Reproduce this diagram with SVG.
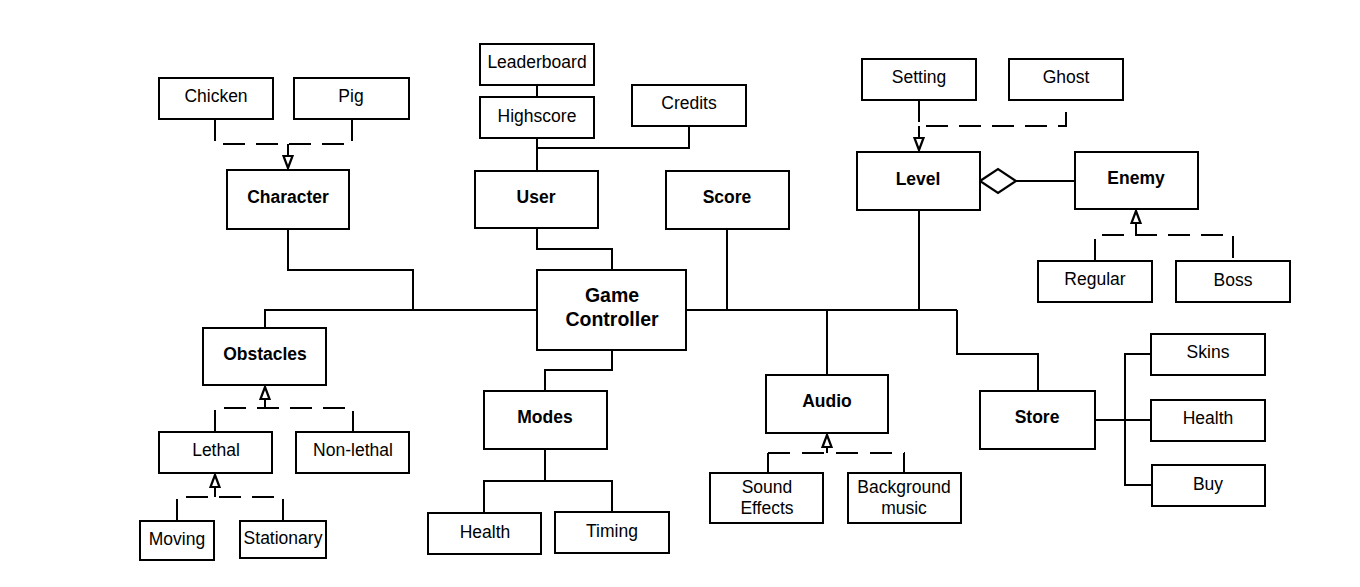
<svg xmlns="http://www.w3.org/2000/svg" width="1360" height="587" viewBox="0 0 1360 587">
<style>
.b{fill:#fff;stroke:#000;stroke-width:2}
.t{font-family:"Liberation Sans",Arial,sans-serif;font-size:17.5px;text-anchor:middle;fill:#000}
.tb{font-family:"Liberation Sans",Arial,sans-serif;font-size:17.5px;font-weight:bold;text-anchor:middle;fill:#000}
.l{fill:none;stroke:#000;stroke-width:2}
.d{fill:none;stroke:#000;stroke-width:2;stroke-dasharray:22 11}
.a{fill:#fff;stroke:#000;stroke-width:2.2}
</style>
<rect width="1360" height="587" fill="#fff"/>
<g id="connectors">
<polyline class="d" points="215,119 215,144 352,144 352,119"/>
<line class="d" x1="288" y1="144" x2="288" y2="156"/>
<polygon class="a" points="283.5,156 292.5,156 288,168"/>
<polyline class="l" points="288,229 288,270 413,270 413,310"/>
<polyline class="l" points="265,328 265,310 537,310"/>
<line class="l" x1="686" y1="310" x2="957" y2="310"/>
<line class="l" x1="727" y1="229" x2="727" y2="310"/>
<line class="l" x1="919" y1="210" x2="919" y2="310"/>
<line class="l" x1="827" y1="310" x2="827" y2="375"/>
<polyline class="l" points="957,310 957,354 1038,354 1038,391"/>
<polyline class="l" points="537,228 537,249 612,249 612,270"/>
<line class="l" x1="537" y1="85" x2="537" y2="97"/>
<line class="l" x1="537" y1="138" x2="537" y2="171"/>
<polyline class="l" points="689,126 689,148 537,148"/>
<polyline class="l" points="612,350 612,370 545,370 545,391"/>
<line class="l" x1="545" y1="449" x2="545" y2="481"/>
<polyline class="l" points="484,513 484,481 612,481 612,512"/>
<polygon class="a" points="827,435 822.5,447 831.5,447"/>
<line class="l" x1="827" y1="447" x2="827" y2="453"/>
<line class="d" x1="768" y1="453" x2="905" y2="453" style="stroke-dasharray:22 12"/>
<line class="l" x1="768" y1="453" x2="768" y2="473"/>
<line class="l" x1="904" y1="453" x2="904" y2="473"/>
<line class="l" x1="1095" y1="420" x2="1151" y2="420"/>
<polyline class="l" points="1151,354 1125,354 1125,485 1152,485"/>
<polygon class="a" points="265,387 260.5,399 269.5,399"/>
<polyline class="d" points="215,432 215,408 353,408 353,432"/>
<line class="l" x1="265" y1="399" x2="265" y2="408"/>
<polygon class="a" points="215,475 210.5,487 219.5,487"/>
<polyline class="d" points="177,521 177,497 283,497 283,521"/>
<line class="l" x1="215" y1="487" x2="215" y2="497"/>
<polyline class="d" points="919,100 919,126 1066,126 1066,100"/>
<line class="l" x1="919" y1="126" x2="919" y2="138"/>
<polygon class="a" points="914.5,138 923.5,138 919,150"/>
<polygon class="a" points="980,181 998,169 1016,181 998,193"/>
<line class="l" x1="1016" y1="181" x2="1075" y2="181"/>
<polygon class="a" points="1136,211 1131.5,223 1140.5,223"/>
<line class="l" x1="1136" y1="223" x2="1136" y2="235"/>
<polyline class="d" points="1095,261 1095,235 1233,235 1233,261"/>
</g>
<g id="chicken"><rect class="b" x="159" y="78" width="114" height="41"/><text class="t" x="216" y="102">Chicken</text></g>
<g id="pig"><rect class="b" x="294" y="78" width="115" height="41"/><text class="t" x="351" y="102">Pig</text></g>
<g id="character"><rect class="b" x="227" y="170" width="122" height="59"/><text class="tb" x="288" y="203">Character</text></g>
<g id="leaderboard"><rect class="b" x="480" y="44" width="114" height="41"/><text class="t" x="537" y="68">Leaderboard</text></g>
<g id="highscore"><rect class="b" x="480" y="97" width="114" height="41"/><text class="t" x="537" y="122">Highscore</text></g>
<g id="credits"><rect class="b" x="632" y="85" width="114" height="41"/><text class="t" x="689" y="109">Credits</text></g>
<g id="user"><rect class="b" x="475" y="171" width="123" height="57"/><text class="tb" x="536" y="203">User</text></g>
<g id="score"><rect class="b" x="666" y="171" width="123" height="58"/><text class="tb" x="727" y="203">Score</text></g>
<g id="game-controller"><rect class="b" x="537" y="270" width="149" height="80"/><text class="tb" x="612" y="302" style="font-size:19.5px">Game</text><text class="tb" x="612" y="326" style="font-size:19.5px">Controller</text></g>
<g id="setting"><rect class="b" x="862" y="59" width="114" height="41"/><text class="t" x="919" y="83">Setting</text></g>
<g id="ghost"><rect class="b" x="1009" y="59" width="114" height="41"/><text class="t" x="1066" y="83">Ghost</text></g>
<g id="level"><rect class="b" x="857" y="152" width="123" height="58"/><text class="tb" x="918" y="185">Level</text></g>
<g id="enemy"><rect class="b" x="1075" y="152" width="123" height="57"/><text class="tb" x="1136" y="184">Enemy</text></g>
<g id="regular"><rect class="b" x="1038" y="261" width="114" height="41"/><text class="t" x="1095" y="285">Regular</text></g>
<g id="boss"><rect class="b" x="1176" y="261" width="114" height="41"/><text class="t" x="1233" y="286">Boss</text></g>
<g id="obstacles"><rect class="b" x="203" y="328" width="123" height="57"/><text class="tb" x="265" y="360">Obstacles</text></g>
<g id="lethal"><rect class="b" x="159" y="432" width="113" height="41"/><text class="t" x="216" y="456">Lethal</text></g>
<g id="non-lethal"><rect class="b" x="296" y="432" width="113" height="41"/><text class="t" x="353" y="456">Non-lethal</text></g>
<g id="moving"><rect class="b" x="140" y="521" width="74" height="39"/><text class="t" x="177" y="545">Moving</text></g>
<g id="stationary"><rect class="b" x="240" y="521" width="86" height="37"/><text class="t" x="283" y="544">Stationary</text></g>
<g id="modes"><rect class="b" x="484" y="391" width="123" height="58"/><text class="tb" x="545" y="423">Modes</text></g>
<g id="modes-health"><rect class="b" x="428" y="513" width="113" height="41"/><text class="t" x="485" y="538">Health</text></g>
<g id="timing"><rect class="b" x="555" y="512" width="114" height="41"/><text class="t" x="612" y="537">Timing</text></g>
<g id="audio"><rect class="b" x="766" y="375" width="122" height="58"/><text class="tb" x="827" y="407">Audio</text></g>
<g id="sound-effects"><rect class="b" x="710" y="473" width="113" height="50"/><text class="t" x="767" y="493">Sound</text><text class="t" x="767" y="514">Effects</text></g>
<g id="background-music"><rect class="b" x="848" y="473" width="113" height="50"/><text class="t" x="904" y="493">Background</text><text class="t" x="904" y="514">music</text></g>
<g id="store"><rect class="b" x="980" y="391" width="115" height="58"/><text class="tb" x="1037" y="423">Store</text></g>
<g id="skins"><rect class="b" x="1151" y="334" width="114" height="41"/><text class="t" x="1208" y="358">Skins</text></g>
<g id="store-health"><rect class="b" x="1151" y="400" width="114" height="41"/><text class="t" x="1208" y="424">Health</text></g>
<g id="buy"><rect class="b" x="1152" y="465" width="113" height="41"/><text class="t" x="1208" y="490">Buy</text></g>
</svg>
